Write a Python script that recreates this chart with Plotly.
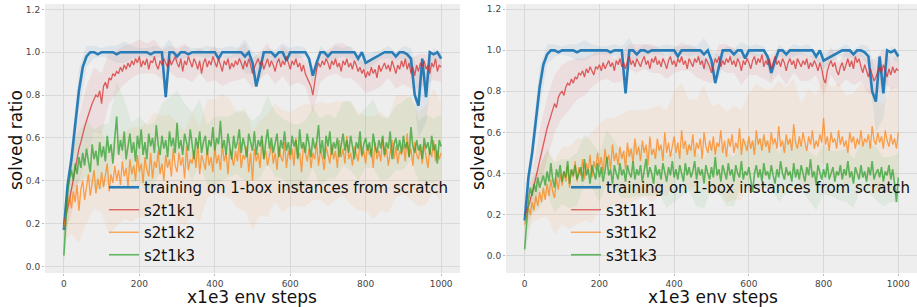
import plotly.graph_objects as go

# ---------------- data ----------------
steps10 = list(range(0, 1001, 10))        # baseline curve x (x1e3 env steps)
steps5 = list(range(0, 1001, 5))          # curriculum curves x
band_steps = list(range(0, 1001, 20))     # x positions of the std bands

baseline = [0.17, 0.38, 0.50, 0.66, 0.82, 0.93, 0.98, 1.00, 1.00, 0.99,
            1.00, 1.00, 1.00, 1.00, 0.99, 1.00, 1.00, 1.00, 1.00, 1.00,
            1.00, 1.00, 1.00, 0.99, 1.00, 1.00, 1.00, 0.79, 1.00, 1.00,
            0.98, 1.00, 1.00, 0.99, 1.00, 1.00, 1.00, 1.00, 1.00, 1.00,
            1.00, 0.97, 1.00, 1.00, 1.00, 1.00, 1.00, 1.00, 0.98, 1.00,
            0.95, 0.84, 0.92, 1.00, 1.00, 1.00, 0.98, 1.00, 1.00, 0.96,
            1.00, 1.00, 1.00, 1.00, 1.00, 0.97, 0.89, 0.95, 1.00, 1.00,
            0.98, 1.00, 1.00, 1.00, 1.00, 1.00, 1.00, 1.00, 0.97, 1.00,
            0.95, 0.96, 0.97, 0.98, 0.99, 1.00, 1.00, 1.00, 0.98, 1.00,
            1.00, 0.99, 0.97, 0.80, 0.75, 0.97, 0.79, 1.00, 0.99, 1.00,
            0.97]

s2t1k1 = [0.20, 0.23, 0.27, 0.31, 0.36, 0.41, 0.47, 0.50, 0.55, 0.58,
          0.62, 0.65, 0.68, 0.71, 0.73, 0.76, 0.78, 0.80, 0.79, 0.82,
          0.76, 0.84, 0.86, 0.83, 0.88, 0.87, 0.90, 0.89, 0.91, 0.90,
          0.93, 0.91, 0.94, 0.92, 0.95, 0.93, 0.96, 0.94, 0.97, 0.95,
          0.98, 0.93, 0.96, 0.94, 0.97, 0.92, 0.96, 0.95, 0.98, 0.94,
          0.92, 0.96, 0.94, 0.97, 0.95, 0.93, 0.97, 0.94, 0.96, 0.98,
          0.95, 0.93, 0.97, 0.91, 0.96, 0.94, 0.98, 0.95, 0.93, 0.97,
          0.95, 0.92, 0.96, 0.90, 0.95, 0.97, 0.93, 0.96, 0.94, 0.98,
          0.95, 0.93, 0.97, 0.94, 0.91, 0.96, 0.94, 0.97, 0.92, 0.95,
          0.93, 0.96, 0.94, 0.97, 0.95, 0.92, 0.96, 0.93, 0.97, 0.94,
          0.90, 0.93, 0.95, 0.97, 0.94, 0.96, 0.92, 0.95, 0.97, 0.93,
          0.96, 0.94, 0.91, 0.95, 0.97, 0.93, 0.96, 0.94, 0.98, 0.95,
          0.92, 0.96, 0.94, 0.97, 0.93, 0.95, 0.91, 0.94, 0.90, 0.88,
          0.86, 0.84, 0.80, 0.86, 0.92, 0.95, 0.93, 0.96, 0.94, 0.97,
          0.95, 0.92, 0.96, 0.94, 0.97, 0.93, 0.95, 0.91, 0.96, 0.94,
          0.97, 0.93, 0.95, 0.92, 0.96, 0.94, 0.91, 0.93, 0.90, 0.92,
          0.88, 0.91, 0.89, 0.93, 0.90, 0.92, 0.88, 0.94, 0.91, 0.93,
          0.95, 0.92, 0.94, 0.91, 0.96, 0.93, 0.90, 0.94, 0.92, 0.96,
          0.93, 0.97, 0.92, 0.95, 0.90, 0.93, 0.89, 0.94, 0.91, 0.95,
          0.93, 0.96, 0.92, 0.94, 0.90, 0.95, 0.93, 0.97, 0.91, 0.94,
          0.93]

s2t1k2 = [0.18, 0.24, 0.29, 0.33, 0.27, 0.35, 0.30, 0.38, 0.26, 0.36,
          0.40, 0.31, 0.37, 0.43, 0.33, 0.39, 0.45, 0.34, 0.41, 0.36,
          0.44, 0.37, 0.42, 0.48, 0.35, 0.43, 0.39, 0.47, 0.40, 0.45,
          0.38, 0.49, 0.42, 0.46, 0.37, 0.50, 0.43, 0.47, 0.40, 0.52,
          0.44, 0.48, 0.39, 0.51, 0.45, 0.42, 0.53, 0.41, 0.49, 0.46,
          0.54, 0.43, 0.48, 0.40, 0.52, 0.46, 0.50, 0.42, 0.55, 0.47,
          0.44, 0.53, 0.47, 0.51, 0.41, 0.56, 0.45, 0.50, 0.48, 0.54,
          0.46, 0.58, 0.43, 0.52, 0.49, 0.45, 0.55, 0.47, 0.51, 0.44,
          0.56, 0.48, 0.52, 0.45, 0.57, 0.49, 0.53, 0.43, 0.55, 0.50,
          0.47, 0.54, 0.49, 0.58, 0.46, 0.52, 0.50, 0.56, 0.44, 0.53,
          0.40, 0.55, 0.49, 0.53, 0.46, 0.59, 0.50, 0.54, 0.47, 0.52,
          0.57, 0.48, 0.53, 0.45, 0.56, 0.51, 0.49, 0.58, 0.46, 0.54,
          0.50, 0.55, 0.47, 0.60, 0.51, 0.53, 0.44, 0.57, 0.52, 0.49,
          0.55, 0.46, 0.53, 0.50, 0.58, 0.47, 0.54, 0.51, 0.45, 0.56,
          0.52, 0.48, 0.57, 0.50, 0.54, 0.46, 0.59, 0.51, 0.55, 0.48,
          0.61, 0.50, 0.53, 0.47, 0.56, 0.52, 0.49, 0.58, 0.51, 0.54,
          0.48, 0.57, 0.52, 0.55, 0.46, 0.58, 0.50, 0.54, 0.49, 0.60,
          0.51, 0.55, 0.47, 0.53, 0.59, 0.50, 0.56, 0.48, 0.54, 0.52,
          0.57, 0.49, 0.62, 0.51, 0.55, 0.47, 0.58, 0.52, 0.50, 0.56,
          0.48, 0.57, 0.52, 0.46, 0.55, 0.51, 0.59, 0.49, 0.54, 0.50,
          0.53]

s2t1k3 = [0.05, 0.22, 0.35, 0.41, 0.45, 0.40, 0.48, 0.43, 0.51, 0.46,
          0.53, 0.47, 0.55, 0.49, 0.44, 0.57, 0.50, 0.54, 0.47, 0.58,
          0.51, 0.56, 0.49, 0.61, 0.53, 0.57, 0.48, 0.60, 0.70, 0.52,
          0.59, 0.54, 0.63, 0.50, 0.57, 0.62, 0.53, 0.58, 0.49, 0.61,
          0.55, 0.64, 0.52, 0.58, 0.50, 0.62, 0.56, 0.60, 0.53, 0.66,
          0.57, 0.52, 0.61, 0.55, 0.59, 0.51, 0.63, 0.56, 0.60, 0.53,
          0.67, 0.55, 0.59, 0.52, 0.62, 0.57, 0.54, 0.64, 0.56, 0.50,
          0.60, 0.55, 0.63, 0.53, 0.58, 0.61, 0.52, 0.59, 0.56, 0.65,
          0.54, 0.60, 0.57, 0.68, 0.55, 0.59, 0.52, 0.62, 0.56, 0.50,
          0.61, 0.55, 0.58, 0.64, 0.53, 0.60, 0.56, 0.51, 0.62, 0.57,
          0.54, 0.63, 0.52, 0.59, 0.56, 0.61, 0.50, 0.58, 0.64, 0.55,
          0.60, 0.53, 0.57, 0.62, 0.51, 0.59, 0.55, 0.63, 0.54, 0.58,
          0.52, 0.61, 0.56, 0.59, 0.50, 0.64, 0.55, 0.58, 0.53, 0.62,
          0.57, 0.51, 0.60, 0.55, 0.58, 0.66, 0.53, 0.59, 0.50, 0.61,
          0.56, 0.63, 0.52, 0.58, 0.55, 0.60, 0.51, 0.57, 0.62, 0.54,
          0.59, 0.53, 0.61, 0.56, 0.50, 0.58, 0.55, 0.63, 0.52, 0.57,
          0.60, 0.54, 0.58, 0.51, 0.62, 0.56, 0.53, 0.59, 0.55, 0.61,
          0.52, 0.58, 0.55, 0.63, 0.50, 0.57, 0.60, 0.54, 0.59, 0.53,
          0.61, 0.55, 0.58, 0.51, 0.65, 0.56, 0.53, 0.59, 0.54, 0.57,
          0.50, 0.60, 0.55, 0.58, 0.52, 0.61, 0.54, 0.57, 0.48, 0.59,
          0.56]

s3t1k1 = [0.20, 0.22, 0.24, 0.27, 0.30, 0.34, 0.38, 0.42, 0.47, 0.50,
          0.55, 0.58, 0.62, 0.65, 0.68, 0.71, 0.74, 0.72, 0.77, 0.79,
          0.80, 0.78, 0.82, 0.84, 0.83, 0.86, 0.84, 0.87, 0.86, 0.89,
          0.88, 0.90, 0.87, 0.91, 0.89, 0.92, 0.90, 0.88, 0.92, 0.91,
          0.93, 0.90, 0.94, 0.91, 0.93, 0.95, 0.92, 0.94, 0.90, 0.95,
          0.93, 0.96, 0.92, 0.94, 0.91, 0.95, 0.97, 0.93, 0.95, 0.92,
          0.96, 0.94, 0.92, 0.95, 0.97, 0.93, 0.95, 0.91, 0.96, 0.94,
          0.97, 0.93, 0.95, 0.92, 0.96, 0.94, 0.91, 0.95, 0.97, 0.93,
          0.95, 0.92, 0.96, 0.94, 0.97, 0.93, 0.95, 0.91, 0.96, 0.94,
          0.92, 0.96, 0.94, 0.97, 0.93, 0.95, 0.91, 0.96, 0.94, 0.92,
          0.89, 0.93, 0.96, 0.94, 0.97, 0.92, 0.95, 0.93, 0.96, 0.94,
          0.97, 0.93, 0.95, 0.92, 0.96, 0.94, 0.90, 0.95, 0.93, 0.96,
          0.94, 0.91, 0.95, 0.97, 0.93, 0.96, 0.94, 0.98, 0.92, 0.95,
          0.93, 0.96, 0.91, 0.94, 0.97, 0.93, 0.95, 0.92, 0.96, 0.94,
          0.90, 0.94, 0.96, 0.93, 0.95, 0.91, 0.96, 0.94, 0.92, 0.95,
          0.93, 0.96, 0.91, 0.94, 0.92, 0.95, 0.93, 0.90, 0.94, 0.91,
          0.86, 0.84, 0.90, 0.93, 0.95, 0.92, 0.94, 0.90, 0.88, 0.92,
          0.94, 0.90, 0.93, 0.96, 0.92, 0.95, 0.91, 0.97, 0.94, 0.96,
          0.92, 0.89, 0.93, 0.90, 0.87, 0.91, 0.88, 0.85, 0.87, 0.90,
          0.92, 0.89, 0.93, 0.90, 0.87, 0.91, 0.88, 0.92, 0.89, 0.91,
          0.90]

s3t1k2 = [0.15, 0.19, 0.23, 0.20, 0.26, 0.22, 0.29, 0.24, 0.31, 0.26,
          0.33, 0.27, 0.35, 0.29, 0.37, 0.31, 0.28, 0.38, 0.32, 0.40,
          0.34, 0.41, 0.36, 0.44, 0.33, 0.42, 0.38, 0.46, 0.36, 0.43,
          0.39, 0.47, 0.37, 0.45, 0.41, 0.49, 0.38, 0.46, 0.42, 0.50,
          0.43, 0.48, 0.40, 0.52, 0.45, 0.49, 0.42, 0.54, 0.46, 0.50,
          0.44, 0.53, 0.47, 0.51, 0.42, 0.55, 0.48, 0.52, 0.45, 0.57,
          0.49, 0.53, 0.46, 0.56, 0.50, 0.54, 0.44, 0.58, 0.49, 0.52,
          0.47, 0.57, 0.51, 0.54, 0.46, 0.60, 0.50, 0.55, 0.48, 0.53,
          0.58, 0.50, 0.55, 0.47, 0.61, 0.52, 0.56, 0.49, 0.54, 0.51,
          0.59, 0.48, 0.55, 0.52, 0.57, 0.47, 0.60, 0.53, 0.50, 0.56,
          0.51, 0.58, 0.49, 0.55, 0.53, 0.61, 0.50, 0.56, 0.48, 0.57,
          0.53, 0.59, 0.50, 0.55, 0.52, 0.62, 0.49, 0.57, 0.54, 0.51,
          0.58, 0.52, 0.56, 0.49, 0.61, 0.54, 0.57, 0.51, 0.59, 0.53,
          0.56, 0.50, 0.60, 0.54, 0.57, 0.52, 0.63, 0.53, 0.56, 0.50,
          0.59, 0.54, 0.57, 0.51, 0.64, 0.55, 0.52, 0.58, 0.53, 0.60,
          0.55, 0.51, 0.58, 0.54, 0.61, 0.52, 0.56, 0.53, 0.59, 0.55,
          0.67, 0.54, 0.58, 0.51, 0.60, 0.55, 0.57, 0.52, 0.61, 0.54,
          0.58, 0.53, 0.56, 0.50, 0.60, 0.55, 0.58, 0.52, 0.57, 0.54,
          0.61, 0.53, 0.57, 0.55, 0.59, 0.52, 0.63, 0.56, 0.54, 0.60,
          0.55, 0.58, 0.52, 0.61, 0.56, 0.53, 0.59, 0.54, 0.57, 0.52,
          0.60]

s3t1k3 = [0.03, 0.18, 0.27, 0.33, 0.29, 0.35, 0.31, 0.38, 0.33, 0.36,
          0.39, 0.34, 0.41, 0.36, 0.45, 0.37, 0.33, 0.42, 0.38, 0.44,
          0.36, 0.41, 0.38, 0.46, 0.35, 0.42, 0.39, 0.44, 0.37, 0.40,
          0.43, 0.36, 0.47, 0.39, 0.42, 0.35, 0.44, 0.40, 0.37, 0.45,
          0.38, 0.43, 0.36, 0.41, 0.48, 0.39, 0.42, 0.35, 0.44, 0.40,
          0.37, 0.45, 0.39, 0.42, 0.36, 0.44, 0.40, 0.38, 0.46, 0.37,
          0.42, 0.39, 0.44, 0.36, 0.41, 0.47, 0.38, 0.43, 0.40, 0.35,
          0.44, 0.39, 0.42, 0.37, 0.45, 0.40, 0.36, 0.43, 0.39, 0.46,
          0.38, 0.42, 0.37, 0.44, 0.40, 0.36, 0.45, 0.39, 0.43, 0.38,
          0.41, 0.46, 0.37, 0.43, 0.39, 0.42, 0.35, 0.44, 0.40, 0.37,
          0.43, 0.38, 0.48, 0.39, 0.42, 0.36, 0.44, 0.40, 0.37, 0.45,
          0.39, 0.42, 0.36, 0.44, 0.40, 0.38, 0.46, 0.37, 0.41, 0.39,
          0.43, 0.37, 0.31, 0.40, 0.44, 0.38, 0.42, 0.36, 0.45, 0.39,
          0.41, 0.37, 0.44, 0.39, 0.35, 0.42, 0.38, 0.46, 0.40, 0.37,
          0.43, 0.39, 0.41, 0.36, 0.45, 0.38, 0.42, 0.37, 0.44, 0.40,
          0.36, 0.43, 0.39, 0.47, 0.38, 0.41, 0.35, 0.44, 0.40, 0.37,
          0.42, 0.38, 0.45, 0.37, 0.40, 0.43, 0.36, 0.41, 0.39, 0.44,
          0.37, 0.42, 0.39, 0.46, 0.38, 0.41, 0.35, 0.43, 0.40, 0.37,
          0.44, 0.38, 0.41, 0.36, 0.43, 0.39, 0.46, 0.37, 0.40, 0.42,
          0.38, 0.43, 0.36, 0.41, 0.39, 0.44, 0.37, 0.42, 0.35, 0.26,
          0.38]

# standard deviations across seeds (every 20 steps)
baseline_std = [0.05, 0.08, 0.10, 0.05, 0.03, 0.02, 0.03, 0.04, 0.05, 0.03,
                0.02, 0.02, 0.03, 0.02, 0.06, 0.02, 0.03, 0.02, 0.02, 0.03,
                0.02, 0.02, 0.03, 0.02, 0.08, 0.05, 0.06, 0.02, 0.03, 0.04,
                0.02, 0.03, 0.02, 0.04, 0.03, 0.02, 0.03, 0.02, 0.03, 0.02,
                0.04, 0.03, 0.02, 0.03, 0.02, 0.03, 0.05, 0.15, 0.12, 0.03,
                0.03]
s2t1k1_std = [0.05, 0.12, 0.15, 0.16, 0.15, 0.14, 0.12, 0.10, 0.09, 0.08,
              0.08, 0.07, 0.08, 0.07, 0.06, 0.07, 0.08, 0.07, 0.06, 0.07,
              0.08, 0.07, 0.06, 0.07, 0.08, 0.07, 0.06, 0.07, 0.06, 0.07,
              0.08, 0.07, 0.06, 0.08, 0.07, 0.06, 0.07, 0.08, 0.07, 0.06,
              0.07, 0.08, 0.07, 0.06, 0.07, 0.08, 0.07, 0.08, 0.07, 0.06,
              0.07]
s2t1k2_std = [0.06, 0.12, 0.15, 0.17, 0.18, 0.19, 0.20, 0.21, 0.20, 0.22,
              0.21, 0.22, 0.23, 0.22, 0.21, 0.23, 0.22, 0.24, 0.22, 0.23,
              0.22, 0.24, 0.23, 0.22, 0.24, 0.23, 0.22, 0.24, 0.23, 0.24,
              0.22, 0.23, 0.24, 0.22, 0.23, 0.24, 0.23, 0.22, 0.24, 0.23,
              0.22, 0.24, 0.23, 0.22, 0.24, 0.23, 0.24, 0.22, 0.23, 0.24,
              0.23]
s2t1k3_std = [0.04, 0.10, 0.12, 0.13, 0.14, 0.15, 0.14, 0.16, 0.15, 0.14,
              0.15, 0.16, 0.14, 0.15, 0.16, 0.15, 0.14, 0.16, 0.15, 0.14,
              0.16, 0.15, 0.14, 0.15, 0.16, 0.14, 0.15, 0.16, 0.15, 0.14,
              0.15, 0.16, 0.15, 0.14, 0.16, 0.15, 0.14, 0.15, 0.16, 0.15,
              0.14, 0.16, 0.15, 0.14, 0.15, 0.16, 0.15, 0.14, 0.16, 0.15,
              0.15]
s3t1k1_std = [0.05, 0.10, 0.14, 0.15, 0.14, 0.13, 0.12, 0.10, 0.09, 0.08,
              0.08, 0.07, 0.06, 0.07, 0.06, 0.07, 0.06, 0.07, 0.06, 0.05,
              0.06, 0.07, 0.06, 0.07, 0.06, 0.05, 0.06, 0.07, 0.06, 0.07,
              0.06, 0.05, 0.06, 0.07, 0.06, 0.07, 0.06, 0.07, 0.06, 0.05,
              0.08, 0.07, 0.06, 0.07, 0.08, 0.07, 0.08, 0.09, 0.08, 0.07,
              0.08]
s3t1k2_std = [0.05, 0.10, 0.13, 0.16, 0.18, 0.19, 0.20, 0.21, 0.20, 0.22,
              0.21, 0.22, 0.21, 0.22, 0.23, 0.22, 0.21, 0.23, 0.22, 0.21,
              0.22, 0.23, 0.22, 0.21, 0.23, 0.22, 0.21, 0.22, 0.23, 0.22,
              0.21, 0.23, 0.22, 0.21, 0.22, 0.23, 0.22, 0.21, 0.23, 0.22,
              0.21, 0.22, 0.23, 0.22, 0.21, 0.23, 0.22, 0.21, 0.22, 0.23,
              0.22]
s3t1k3_std = [0.04, 0.09, 0.10, 0.11, 0.12, 0.11, 0.12, 0.13, 0.12, 0.11,
              0.12, 0.13, 0.12, 0.11, 0.12, 0.13, 0.12, 0.11, 0.12, 0.13,
              0.12, 0.11, 0.12, 0.13, 0.12, 0.11, 0.12, 0.13, 0.12, 0.11,
              0.12, 0.13, 0.12, 0.11, 0.12, 0.13, 0.12, 0.11, 0.12, 0.13,
              0.12, 0.11, 0.12, 0.13, 0.12, 0.11, 0.12, 0.13, 0.12, 0.11,
              0.12]

x_ticks = [0, 200, 400, 600, 800, 1000]
y_ticks = [0.0, 0.2, 0.4, 0.6, 0.8, 1.0, 1.2]

BLUE = (31, 119, 180)
RED = (214, 39, 40)
ORANGE = (255, 127, 14)
GREEN = (44, 160, 44)

def rgba(c, a):
    return f"rgba({c[0]},{c[1]},{c[2]},{a})"

BASE_NAME = "training on 1-box instances from scratch"
panels = [
    ("x", "y", "legend", [
        (BASE_NAME, steps10, baseline, baseline_std, BLUE, 2.6, 0.95),
        ("s2t1k1", steps5, s2t1k1, s2t1k1_std, RED, 1.3, 0.72),
        ("s2t1k2", steps5, s2t1k2, s2t1k2_std, ORANGE, 1.3, 0.72),
        ("s2t1k3", steps5, s2t1k3, s2t1k3_std, GREEN, 1.6, 0.72),
    ]),
    ("x2", "y2", "legend2", [
        (BASE_NAME, steps10, baseline, baseline_std, BLUE, 2.6, 0.95),
        ("s3t1k1", steps5, s3t1k1, s3t1k1_std, RED, 1.3, 0.72),
        ("s3t1k2", steps5, s3t1k2, s3t1k2_std, ORANGE, 1.3, 0.72),
        ("s3t1k3", steps5, s3t1k3, s3t1k3_std, GREEN, 1.6, 0.72),
    ]),
]

fig = go.Figure()
for xa, ya, lg, series in panels:
    for name, xs, mean, std, col, lw, op in series:
        lookup = dict(zip(xs, mean))
        m = [lookup[b] for b in band_steps]
        upper = [a + b for a, b in zip(m, std)]
        lower = [a - b for a, b in zip(m, std)]
        fig.add_trace(go.Scatter(x=band_steps + band_steps[::-1], y=upper + lower[::-1],
                                 fill="toself", fillcolor=rgba(col, 0.08),
                                 line=dict(width=0), mode="lines", hoverinfo="skip",
                                 showlegend=False, xaxis=xa, yaxis=ya))
    for name, xs, mean, std, col, lw, op in series:
        fig.add_trace(go.Scatter(x=xs, y=mean, mode="lines", name=name,
                                 line=dict(color=rgba(col, op), width=lw),
                                 xaxis=xa, yaxis=ya, legend=lg))

FONT = "DejaVu Sans"
axis_common = dict(showgrid=True, gridcolor="#d9d9d9", gridwidth=0.8, zeroline=False,
                   ticks="outside", ticklen=2, tickcolor="#bbbbbb",
                   tickfont=dict(family=FONT, size=9, color="#444444"),
                   showline=False)

title_font = dict(family=FONT, size=17, color="#111111")
legend_common = dict(xanchor="left", yanchor="top", bgcolor="rgba(0,0,0,0)", borderwidth=0,
                     font=dict(family=FONT, size=15, color="#111111"), tracegroupgap=0)

fig.update_layout(
    width=917, height=307,
    margin=dict(l=0, r=0, t=0, b=0),
    paper_bgcolor="white", plot_bgcolor="#eeeeee",
    font=dict(family=FONT, color="#222222"),
    xaxis=dict(domain=[45 / 917, 460 / 917], range=[-50, 1050], tickvals=x_ticks,
               anchor="y", **axis_common),
    yaxis=dict(domain=[1 - 273 / 307, 1 - 4 / 307], range=[-0.031, 1.225],
               tickvals=y_ticks, tickformat=".1f", anchor="x", **axis_common),
    xaxis2=dict(domain=[506 / 917, 1.0], range=[-50, 1050], tickvals=x_ticks,
                anchor="y2", **axis_common),
    yaxis2=dict(domain=[1 - 273 / 307, 1 - 4 / 307], range=[-0.086, 1.226],
                tickvals=y_ticks, tickformat=".1f", anchor="x2", **axis_common),
    legend=dict(x=104 / 917, y=1 - 171 / 307, **legend_common),
    legend2=dict(x=566 / 917, y=1 - 171 / 307, **legend_common),
    annotations=[
        dict(text="x1e3 env steps", x=252 / 917, y=1 - 297 / 307, xref="paper", yref="paper",
             xanchor="center", yanchor="middle", showarrow=False, font=title_font),
        dict(text="x1e3 env steps", x=713 / 917, y=1 - 297 / 307, xref="paper", yref="paper",
             xanchor="center", yanchor="middle", showarrow=False, font=title_font),
        dict(text="solved ratio", x=16 / 917, y=1 - 140 / 307, xref="paper", yref="paper",
             xanchor="center", yanchor="middle", textangle=-90, showarrow=False, font=title_font),
        dict(text="solved ratio", x=478 / 917, y=1 - 140 / 307, xref="paper", yref="paper",
             xanchor="center", yanchor="middle", textangle=-90, showarrow=False, font=title_font),
    ],
)

fig.write_html("out.html", config={"displayModeBar": False},
               post_script="document.body.style.margin='0';")
